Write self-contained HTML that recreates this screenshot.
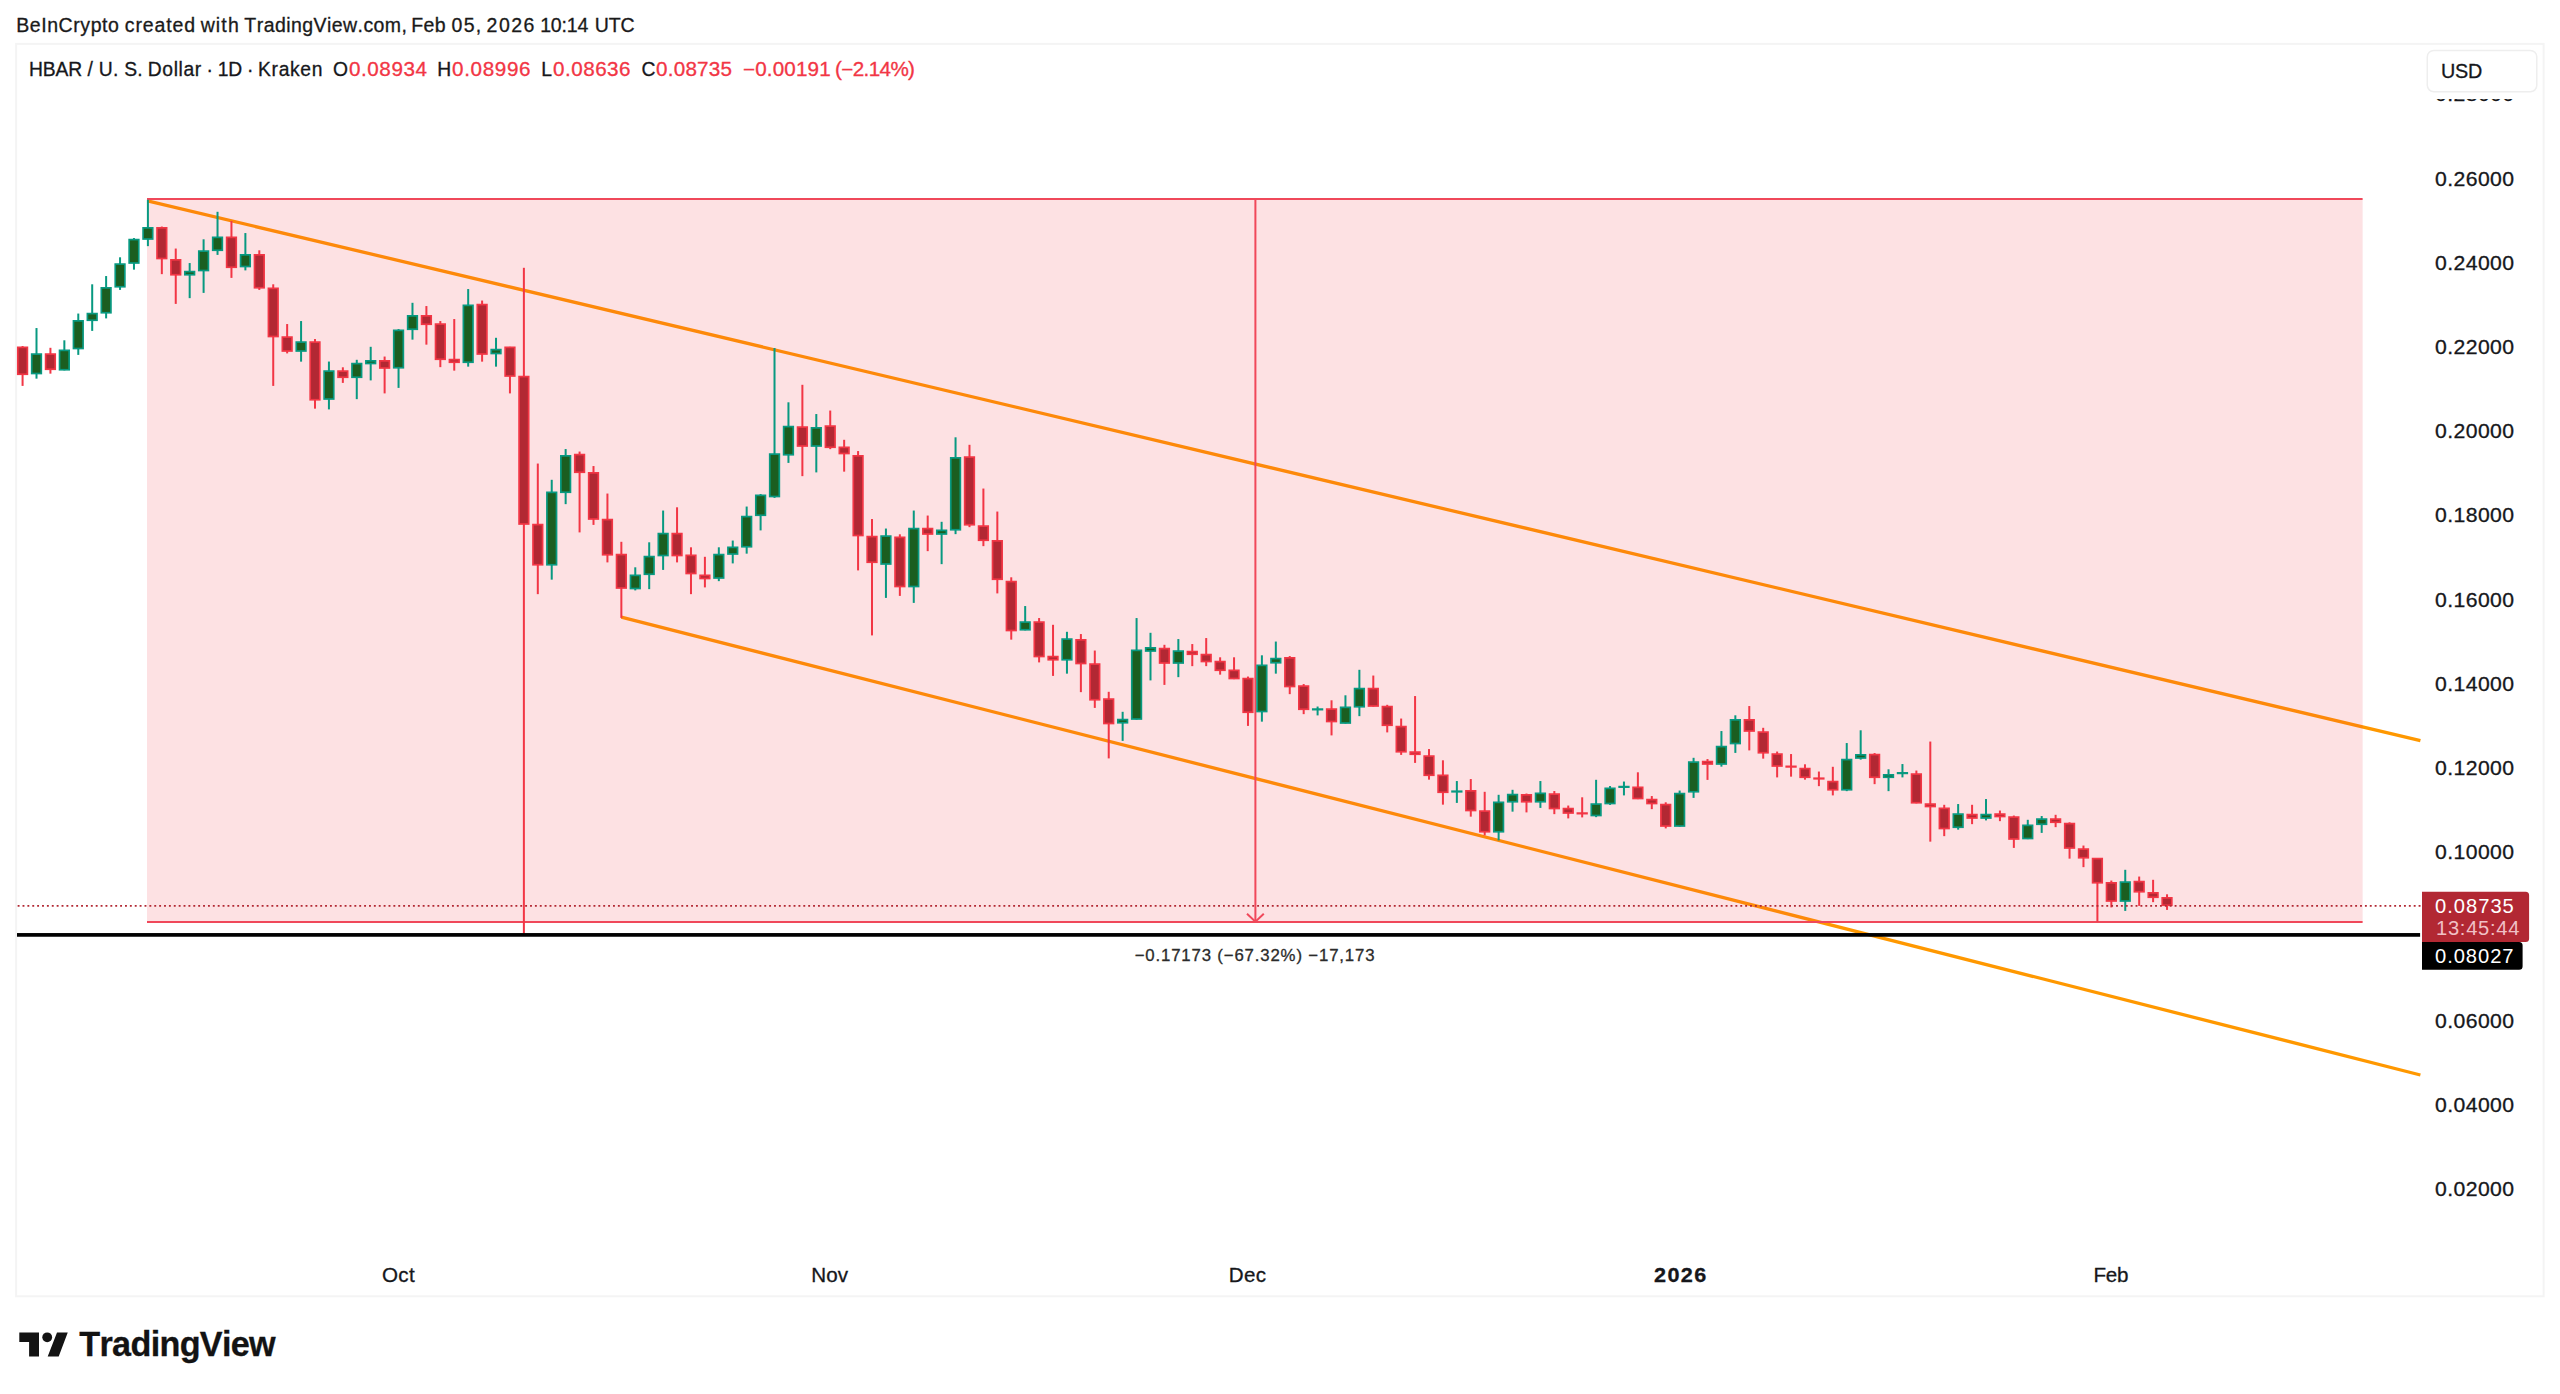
<!DOCTYPE html>
<html><head><meta charset="utf-8"><title>HBAR / U. S. Dollar</title>
<style>
html,body{margin:0;padding:0;background:#fff}
body{width:2560px;height:1394px;position:relative;overflow:hidden;font-family:"Liberation Sans",sans-serif;color:#131722;font-kerning:none}
.abs{position:absolute;white-space:nowrap}
.t{position:absolute;white-space:pre;font-kerning:none;-webkit-text-stroke:0.3px currentColor}
#logo{left:19px;top:1326px}
</style></head><body>
<svg class="abs" style="left:0;top:0" width="2560" height="1394"><rect x="16.1" y="43.9" width="2527.5" height="1252.4" fill="none" stroke="#f4f4f4" stroke-width="2"/></svg>
<svg class="abs" style="left:0;top:0" width="2560" height="1394" viewBox="0 0 2560 1394">
<line x1="147.5" y1="200.9" x2="2420.4" y2="740.7" stroke="#ff9800" stroke-width="3.3"/>
<line x1="621.3" y1="617.2" x2="2420.4" y2="1075.0" stroke="#ff9800" stroke-width="3.3"/>
<rect x="147" y="199" width="2215.6" height="723" fill="#f23645" fill-opacity="0.15"/>
<rect x="147" y="198" width="2215.6" height="2" fill="#f0485a"/>
<rect x="147" y="921" width="2215.6" height="2" fill="#f0485a"/>
<rect x="1254.4" y="199" width="2" height="723" fill="#f0485a"/>
<path d="M1247.0 913.8 L1255.4 921.7 L1263.8000000000002 913.8" fill="none" stroke="#f0485a" stroke-width="2"/>
<rect x="21.58" y="346.05" width="2" height="39.85" fill="#f23645"/>
<rect x="17.78" y="347.35" width="9.600000000000001" height="26.90" fill="#b22833" stroke="#f23645" stroke-width="1.7"/>
<rect x="35.50" y="328.05" width="2" height="50.60" fill="#089981"/>
<rect x="31.70" y="354.10" width="9.600000000000001" height="19.40" fill="#1b5e20" stroke="#089981" stroke-width="1.7"/>
<rect x="49.42" y="347.80" width="2" height="25.85" fill="#f23645"/>
<rect x="45.62" y="354.10" width="9.600000000000001" height="15.15" fill="#b22833" stroke="#f23645" stroke-width="1.7"/>
<rect x="63.35" y="340.30" width="2" height="30.10" fill="#089981"/>
<rect x="59.55" y="350.35" width="9.600000000000001" height="19.40" fill="#1b5e20" stroke="#089981" stroke-width="1.7"/>
<rect x="77.28" y="313.55" width="2" height="41.35" fill="#089981"/>
<rect x="73.47" y="320.85" width="9.600000000000001" height="27.65" fill="#1b5e20" stroke="#089981" stroke-width="1.7"/>
<rect x="91.20" y="284.30" width="2" height="46.60" fill="#089981"/>
<rect x="87.40" y="313.60" width="9.600000000000001" height="6.65" fill="#1b5e20" stroke="#089981" stroke-width="1.7"/>
<rect x="105.12" y="276.05" width="2" height="42.35" fill="#089981"/>
<rect x="101.32" y="287.85" width="9.600000000000001" height="24.90" fill="#1b5e20" stroke="#089981" stroke-width="1.7"/>
<rect x="119.05" y="257.30" width="2" height="32.60" fill="#089981"/>
<rect x="115.25" y="264.10" width="9.600000000000001" height="22.65" fill="#1b5e20" stroke="#089981" stroke-width="1.7"/>
<rect x="132.97" y="238.05" width="2" height="31.60" fill="#089981"/>
<rect x="129.17" y="239.60" width="9.600000000000001" height="23.40" fill="#1b5e20" stroke="#089981" stroke-width="1.7"/>
<rect x="146.90" y="199.80" width="2" height="46.35" fill="#089981"/>
<rect x="143.10" y="227.85" width="9.600000000000001" height="11.15" fill="#1b5e20" stroke="#089981" stroke-width="1.7"/>
<rect x="160.83" y="226.55" width="2" height="47.60" fill="#f23645"/>
<rect x="157.03" y="227.85" width="9.600000000000001" height="30.65" fill="#b22833" stroke="#f23645" stroke-width="1.7"/>
<rect x="174.75" y="248.55" width="2" height="55.35" fill="#f23645"/>
<rect x="170.95" y="259.85" width="9.600000000000001" height="14.90" fill="#b22833" stroke="#f23645" stroke-width="1.7"/>
<rect x="188.68" y="263.05" width="2" height="35.10" fill="#089981"/>
<rect x="184.88" y="271.60" width="9.600000000000001" height="3.15" fill="#1b5e20" stroke="#089981" stroke-width="1.7"/>
<rect x="202.60" y="239.30" width="2" height="53.60" fill="#089981"/>
<rect x="198.80" y="251.10" width="9.600000000000001" height="19.40" fill="#1b5e20" stroke="#089981" stroke-width="1.7"/>
<rect x="216.53" y="211.80" width="2" height="43.10" fill="#089981"/>
<rect x="212.72" y="237.35" width="9.600000000000001" height="12.90" fill="#1b5e20" stroke="#089981" stroke-width="1.7"/>
<rect x="230.45" y="221.05" width="2" height="56.85" fill="#f23645"/>
<rect x="226.65" y="237.35" width="9.600000000000001" height="29.90" fill="#b22833" stroke="#f23645" stroke-width="1.7"/>
<rect x="244.38" y="233.05" width="2" height="37.35" fill="#089981"/>
<rect x="240.57" y="254.85" width="9.600000000000001" height="11.65" fill="#1b5e20" stroke="#089981" stroke-width="1.7"/>
<rect x="258.30" y="250.30" width="2" height="39.60" fill="#f23645"/>
<rect x="254.50" y="254.85" width="9.600000000000001" height="32.90" fill="#b22833" stroke="#f23645" stroke-width="1.7"/>
<rect x="272.23" y="284.30" width="2" height="101.60" fill="#f23645"/>
<rect x="268.43" y="288.35" width="9.600000000000001" height="48.15" fill="#b22833" stroke="#f23645" stroke-width="1.7"/>
<rect x="286.15" y="324.05" width="2" height="29.35" fill="#f23645"/>
<rect x="282.35" y="337.10" width="9.600000000000001" height="13.90" fill="#b22833" stroke="#f23645" stroke-width="1.7"/>
<rect x="300.08" y="321.05" width="2" height="40.60" fill="#089981"/>
<rect x="296.28" y="342.10" width="9.600000000000001" height="8.90" fill="#1b5e20" stroke="#089981" stroke-width="1.7"/>
<rect x="314.00" y="339.05" width="2" height="69.60" fill="#f23645"/>
<rect x="310.20" y="342.10" width="9.600000000000001" height="57.65" fill="#b22833" stroke="#f23645" stroke-width="1.7"/>
<rect x="327.93" y="361.55" width="2" height="47.85" fill="#089981"/>
<rect x="324.13" y="371.10" width="9.600000000000001" height="27.90" fill="#1b5e20" stroke="#089981" stroke-width="1.7"/>
<rect x="341.85" y="367.30" width="2" height="15.60" fill="#f23645"/>
<rect x="338.05" y="371.10" width="9.600000000000001" height="6.15" fill="#b22833" stroke="#f23645" stroke-width="1.7"/>
<rect x="355.77" y="359.80" width="2" height="39.35" fill="#089981"/>
<rect x="351.98" y="363.60" width="9.600000000000001" height="13.65" fill="#1b5e20" stroke="#089981" stroke-width="1.7"/>
<rect x="369.70" y="346.80" width="2" height="33.60" fill="#089981"/>
<rect x="365.90" y="360.85" width="9.600000000000001" height="2.65" fill="#1b5e20" stroke="#089981" stroke-width="1.7"/>
<rect x="383.62" y="356.55" width="2" height="36.85" fill="#f23645"/>
<rect x="379.83" y="360.85" width="9.600000000000001" height="7.15" fill="#b22833" stroke="#f23645" stroke-width="1.7"/>
<rect x="397.55" y="329.05" width="2" height="58.85" fill="#089981"/>
<rect x="393.75" y="330.35" width="9.600000000000001" height="37.40" fill="#1b5e20" stroke="#089981" stroke-width="1.7"/>
<rect x="411.48" y="302.80" width="2" height="36.85" fill="#089981"/>
<rect x="407.68" y="315.85" width="9.600000000000001" height="13.40" fill="#1b5e20" stroke="#089981" stroke-width="1.7"/>
<rect x="425.40" y="306.05" width="2" height="38.60" fill="#f23645"/>
<rect x="421.60" y="315.85" width="9.600000000000001" height="8.40" fill="#b22833" stroke="#f23645" stroke-width="1.7"/>
<rect x="439.33" y="321.05" width="2" height="46.10" fill="#f23645"/>
<rect x="435.53" y="324.10" width="9.600000000000001" height="35.15" fill="#b22833" stroke="#f23645" stroke-width="1.7"/>
<rect x="453.25" y="319.05" width="2" height="51.60" fill="#f23645"/>
<rect x="449.45" y="359.60" width="9.600000000000001" height="2.65" fill="#b22833" stroke="#f23645" stroke-width="1.7"/>
<rect x="467.18" y="289.05" width="2" height="77.60" fill="#089981"/>
<rect x="463.38" y="305.35" width="9.600000000000001" height="56.90" fill="#1b5e20" stroke="#089981" stroke-width="1.7"/>
<rect x="481.10" y="300.55" width="2" height="61.10" fill="#f23645"/>
<rect x="477.30" y="304.60" width="9.600000000000001" height="49.40" fill="#b22833" stroke="#f23645" stroke-width="1.7"/>
<rect x="495.02" y="337.80" width="2" height="28.85" fill="#089981"/>
<rect x="491.23" y="349.60" width="9.600000000000001" height="3.90" fill="#1b5e20" stroke="#089981" stroke-width="1.7"/>
<rect x="508.95" y="346.80" width="2" height="46.60" fill="#f23645"/>
<rect x="505.15" y="347.35" width="9.600000000000001" height="28.65" fill="#b22833" stroke="#f23645" stroke-width="1.7"/>
<rect x="522.88" y="267.80" width="2" height="665.95" fill="#f23645"/>
<rect x="519.08" y="376.60" width="9.600000000000001" height="147.40" fill="#b22833" stroke="#f23645" stroke-width="1.7"/>
<rect x="536.80" y="463.55" width="2" height="130.60" fill="#f23645"/>
<rect x="533.00" y="524.60" width="9.600000000000001" height="40.15" fill="#b22833" stroke="#f23645" stroke-width="1.7"/>
<rect x="550.73" y="479.80" width="2" height="99.85" fill="#089981"/>
<rect x="546.93" y="492.35" width="9.600000000000001" height="72.40" fill="#1b5e20" stroke="#089981" stroke-width="1.7"/>
<rect x="564.65" y="449.05" width="2" height="55.10" fill="#089981"/>
<rect x="560.85" y="455.85" width="9.600000000000001" height="36.40" fill="#1b5e20" stroke="#089981" stroke-width="1.7"/>
<rect x="578.58" y="451.55" width="2" height="80.85" fill="#f23645"/>
<rect x="574.78" y="454.60" width="9.600000000000001" height="17.65" fill="#b22833" stroke="#f23645" stroke-width="1.7"/>
<rect x="592.50" y="466.05" width="2" height="58.85" fill="#f23645"/>
<rect x="588.70" y="472.85" width="9.600000000000001" height="46.15" fill="#b22833" stroke="#f23645" stroke-width="1.7"/>
<rect x="606.43" y="493.55" width="2" height="68.85" fill="#f23645"/>
<rect x="602.63" y="519.60" width="9.600000000000001" height="35.15" fill="#b22833" stroke="#f23645" stroke-width="1.7"/>
<rect x="620.35" y="541.80" width="2" height="76.10" fill="#f23645"/>
<rect x="616.55" y="554.60" width="9.600000000000001" height="33.40" fill="#b22833" stroke="#f23645" stroke-width="1.7"/>
<rect x="634.27" y="567.30" width="2" height="23.10" fill="#089981"/>
<rect x="630.48" y="575.35" width="9.600000000000001" height="13.15" fill="#1b5e20" stroke="#089981" stroke-width="1.7"/>
<rect x="648.20" y="542.30" width="2" height="46.85" fill="#089981"/>
<rect x="644.40" y="556.60" width="9.600000000000001" height="17.65" fill="#1b5e20" stroke="#089981" stroke-width="1.7"/>
<rect x="662.12" y="510.55" width="2" height="59.35" fill="#089981"/>
<rect x="658.33" y="533.60" width="9.600000000000001" height="21.90" fill="#1b5e20" stroke="#089981" stroke-width="1.7"/>
<rect x="676.05" y="507.30" width="2" height="55.10" fill="#f23645"/>
<rect x="672.25" y="533.60" width="9.600000000000001" height="21.90" fill="#b22833" stroke="#f23645" stroke-width="1.7"/>
<rect x="689.98" y="547.30" width="2" height="46.85" fill="#f23645"/>
<rect x="686.18" y="555.35" width="9.600000000000001" height="18.15" fill="#b22833" stroke="#f23645" stroke-width="1.7"/>
<rect x="703.90" y="556.80" width="2" height="30.60" fill="#f23645"/>
<rect x="700.10" y="575.35" width="9.600000000000001" height="3.15" fill="#b22833" stroke="#f23645" stroke-width="1.7"/>
<rect x="717.83" y="547.30" width="2" height="33.85" fill="#089981"/>
<rect x="714.03" y="554.60" width="9.600000000000001" height="23.40" fill="#1b5e20" stroke="#089981" stroke-width="1.7"/>
<rect x="731.75" y="540.55" width="2" height="22.85" fill="#089981"/>
<rect x="727.95" y="547.35" width="9.600000000000001" height="6.65" fill="#1b5e20" stroke="#089981" stroke-width="1.7"/>
<rect x="745.67" y="506.55" width="2" height="47.10" fill="#089981"/>
<rect x="741.88" y="516.60" width="9.600000000000001" height="30.15" fill="#1b5e20" stroke="#089981" stroke-width="1.7"/>
<rect x="759.60" y="494.05" width="2" height="36.35" fill="#089981"/>
<rect x="755.80" y="495.35" width="9.600000000000001" height="19.90" fill="#1b5e20" stroke="#089981" stroke-width="1.7"/>
<rect x="773.52" y="348.05" width="2" height="149.85" fill="#089981"/>
<rect x="769.73" y="454.10" width="9.600000000000001" height="42.40" fill="#1b5e20" stroke="#089981" stroke-width="1.7"/>
<rect x="787.45" y="402.30" width="2" height="60.60" fill="#089981"/>
<rect x="783.65" y="426.60" width="9.600000000000001" height="28.15" fill="#1b5e20" stroke="#089981" stroke-width="1.7"/>
<rect x="801.38" y="384.80" width="2" height="91.35" fill="#f23645"/>
<rect x="797.58" y="427.10" width="9.600000000000001" height="18.90" fill="#b22833" stroke="#f23645" stroke-width="1.7"/>
<rect x="815.30" y="414.05" width="2" height="58.35" fill="#089981"/>
<rect x="811.50" y="427.85" width="9.600000000000001" height="18.15" fill="#1b5e20" stroke="#089981" stroke-width="1.7"/>
<rect x="829.23" y="410.55" width="2" height="38.60" fill="#f23645"/>
<rect x="825.43" y="426.10" width="9.600000000000001" height="21.15" fill="#b22833" stroke="#f23645" stroke-width="1.7"/>
<rect x="843.15" y="439.80" width="2" height="31.85" fill="#f23645"/>
<rect x="839.35" y="447.35" width="9.600000000000001" height="6.15" fill="#b22833" stroke="#f23645" stroke-width="1.7"/>
<rect x="857.08" y="451.05" width="2" height="119.35" fill="#f23645"/>
<rect x="853.28" y="455.85" width="9.600000000000001" height="79.65" fill="#b22833" stroke="#f23645" stroke-width="1.7"/>
<rect x="871.00" y="519.05" width="2" height="116.35" fill="#f23645"/>
<rect x="867.20" y="536.60" width="9.600000000000001" height="25.65" fill="#b22833" stroke="#f23645" stroke-width="1.7"/>
<rect x="884.93" y="528.55" width="2" height="69.35" fill="#089981"/>
<rect x="881.13" y="536.10" width="9.600000000000001" height="27.90" fill="#1b5e20" stroke="#089981" stroke-width="1.7"/>
<rect x="898.85" y="534.30" width="2" height="61.60" fill="#f23645"/>
<rect x="895.05" y="537.35" width="9.600000000000001" height="49.15" fill="#b22833" stroke="#f23645" stroke-width="1.7"/>
<rect x="912.77" y="510.55" width="2" height="92.35" fill="#089981"/>
<rect x="908.98" y="528.60" width="9.600000000000001" height="57.90" fill="#1b5e20" stroke="#089981" stroke-width="1.7"/>
<rect x="926.70" y="515.55" width="2" height="35.60" fill="#f23645"/>
<rect x="922.90" y="528.60" width="9.600000000000001" height="5.40" fill="#b22833" stroke="#f23645" stroke-width="1.7"/>
<rect x="940.62" y="521.80" width="2" height="42.35" fill="#089981"/>
<rect x="936.83" y="530.35" width="9.600000000000001" height="3.65" fill="#1b5e20" stroke="#089981" stroke-width="1.7"/>
<rect x="954.55" y="437.30" width="2" height="96.85" fill="#089981"/>
<rect x="950.75" y="457.85" width="9.600000000000001" height="71.90" fill="#1b5e20" stroke="#089981" stroke-width="1.7"/>
<rect x="968.48" y="444.80" width="2" height="82.35" fill="#f23645"/>
<rect x="964.68" y="457.10" width="9.600000000000001" height="67.65" fill="#b22833" stroke="#f23645" stroke-width="1.7"/>
<rect x="982.40" y="488.55" width="2" height="57.60" fill="#f23645"/>
<rect x="978.60" y="526.10" width="9.600000000000001" height="14.15" fill="#b22833" stroke="#f23645" stroke-width="1.7"/>
<rect x="996.33" y="511.55" width="2" height="81.85" fill="#f23645"/>
<rect x="992.53" y="540.85" width="9.600000000000001" height="38.40" fill="#b22833" stroke="#f23645" stroke-width="1.7"/>
<rect x="1010.25" y="577.30" width="2" height="62.35" fill="#f23645"/>
<rect x="1006.45" y="581.60" width="9.600000000000001" height="48.90" fill="#b22833" stroke="#f23645" stroke-width="1.7"/>
<rect x="1024.18" y="606.05" width="2" height="24.35" fill="#089981"/>
<rect x="1020.38" y="622.10" width="9.600000000000001" height="7.65" fill="#1b5e20" stroke="#089981" stroke-width="1.7"/>
<rect x="1038.10" y="618.05" width="2" height="44.35" fill="#f23645"/>
<rect x="1034.30" y="622.10" width="9.600000000000001" height="34.40" fill="#b22833" stroke="#f23645" stroke-width="1.7"/>
<rect x="1052.03" y="624.80" width="2" height="51.10" fill="#f23645"/>
<rect x="1048.22" y="656.60" width="9.600000000000001" height="3.15" fill="#b22833" stroke="#f23645" stroke-width="1.7"/>
<rect x="1065.95" y="631.80" width="2" height="41.85" fill="#089981"/>
<rect x="1062.15" y="639.10" width="9.600000000000001" height="20.65" fill="#1b5e20" stroke="#089981" stroke-width="1.7"/>
<rect x="1079.88" y="634.05" width="2" height="58.10" fill="#f23645"/>
<rect x="1076.07" y="639.85" width="9.600000000000001" height="23.65" fill="#b22833" stroke="#f23645" stroke-width="1.7"/>
<rect x="1093.80" y="650.55" width="2" height="57.35" fill="#f23645"/>
<rect x="1090.00" y="664.10" width="9.600000000000001" height="35.65" fill="#b22833" stroke="#f23645" stroke-width="1.7"/>
<rect x="1107.73" y="691.80" width="2" height="66.60" fill="#f23645"/>
<rect x="1103.92" y="699.10" width="9.600000000000001" height="24.40" fill="#b22833" stroke="#f23645" stroke-width="1.7"/>
<rect x="1121.65" y="711.80" width="2" height="29.10" fill="#089981"/>
<rect x="1117.85" y="719.60" width="9.600000000000001" height="3.15" fill="#1b5e20" stroke="#089981" stroke-width="1.7"/>
<rect x="1135.58" y="618.05" width="2" height="101.60" fill="#089981"/>
<rect x="1131.77" y="650.35" width="9.600000000000001" height="68.65" fill="#1b5e20" stroke="#089981" stroke-width="1.7"/>
<rect x="1149.50" y="632.80" width="2" height="47.60" fill="#089981"/>
<rect x="1145.70" y="647.85" width="9.600000000000001" height="3.15" fill="#1b5e20" stroke="#089981" stroke-width="1.7"/>
<rect x="1163.43" y="644.80" width="2" height="40.10" fill="#f23645"/>
<rect x="1159.62" y="648.60" width="9.600000000000001" height="14.40" fill="#b22833" stroke="#f23645" stroke-width="1.7"/>
<rect x="1177.35" y="639.05" width="2" height="38.10" fill="#089981"/>
<rect x="1173.55" y="651.10" width="9.600000000000001" height="11.90" fill="#1b5e20" stroke="#089981" stroke-width="1.7"/>
<rect x="1191.28" y="644.05" width="2" height="22.10" fill="#f23645"/>
<rect x="1187.47" y="651.60" width="9.600000000000001" height="2.65" fill="#b22833" stroke="#f23645" stroke-width="1.7"/>
<rect x="1205.20" y="638.05" width="2" height="28.10" fill="#f23645"/>
<rect x="1201.40" y="654.60" width="9.600000000000001" height="6.90" fill="#b22833" stroke="#f23645" stroke-width="1.7"/>
<rect x="1219.13" y="657.30" width="2" height="17.35" fill="#f23645"/>
<rect x="1215.33" y="661.60" width="9.600000000000001" height="8.65" fill="#b22833" stroke="#f23645" stroke-width="1.7"/>
<rect x="1233.05" y="657.30" width="2" height="21.85" fill="#f23645"/>
<rect x="1229.25" y="670.35" width="9.600000000000001" height="8.15" fill="#b22833" stroke="#f23645" stroke-width="1.7"/>
<rect x="1246.98" y="676.55" width="2" height="49.35" fill="#f23645"/>
<rect x="1243.17" y="678.60" width="9.600000000000001" height="33.65" fill="#b22833" stroke="#f23645" stroke-width="1.7"/>
<rect x="1260.90" y="655.30" width="2" height="66.35" fill="#089981"/>
<rect x="1257.10" y="665.35" width="9.600000000000001" height="46.15" fill="#1b5e20" stroke="#089981" stroke-width="1.7"/>
<rect x="1274.83" y="641.55" width="2" height="32.10" fill="#089981"/>
<rect x="1271.02" y="658.60" width="9.600000000000001" height="4.15" fill="#1b5e20" stroke="#089981" stroke-width="1.7"/>
<rect x="1288.75" y="656.05" width="2" height="38.10" fill="#f23645"/>
<rect x="1284.95" y="657.85" width="9.600000000000001" height="28.65" fill="#b22833" stroke="#f23645" stroke-width="1.7"/>
<rect x="1302.68" y="684.05" width="2" height="30.10" fill="#f23645"/>
<rect x="1298.88" y="686.10" width="9.600000000000001" height="23.15" fill="#b22833" stroke="#f23645" stroke-width="1.7"/>
<rect x="1316.60" y="706.55" width="2" height="8.85" fill="#089981"/>
<rect x="1311.95" y="708.27" width="11.3" height="2.20" fill="#089981"/>
<rect x="1330.53" y="700.30" width="2" height="35.10" fill="#f23645"/>
<rect x="1326.72" y="709.10" width="9.600000000000001" height="12.40" fill="#b22833" stroke="#f23645" stroke-width="1.7"/>
<rect x="1344.45" y="695.30" width="2" height="28.35" fill="#089981"/>
<rect x="1340.65" y="707.35" width="9.600000000000001" height="15.65" fill="#1b5e20" stroke="#089981" stroke-width="1.7"/>
<rect x="1358.38" y="669.80" width="2" height="46.35" fill="#089981"/>
<rect x="1354.58" y="688.60" width="9.600000000000001" height="18.15" fill="#1b5e20" stroke="#089981" stroke-width="1.7"/>
<rect x="1372.30" y="675.55" width="2" height="31.10" fill="#f23645"/>
<rect x="1368.50" y="688.60" width="9.600000000000001" height="17.40" fill="#b22833" stroke="#f23645" stroke-width="1.7"/>
<rect x="1386.23" y="704.80" width="2" height="27.60" fill="#f23645"/>
<rect x="1382.42" y="706.60" width="9.600000000000001" height="18.65" fill="#b22833" stroke="#f23645" stroke-width="1.7"/>
<rect x="1400.15" y="718.55" width="2" height="36.35" fill="#f23645"/>
<rect x="1396.35" y="726.60" width="9.600000000000001" height="25.15" fill="#b22833" stroke="#f23645" stroke-width="1.7"/>
<rect x="1414.08" y="696.05" width="2" height="66.85" fill="#f23645"/>
<rect x="1410.27" y="752.10" width="9.600000000000001" height="2.15" fill="#b22833" stroke="#f23645" stroke-width="1.7"/>
<rect x="1428.00" y="749.05" width="2" height="30.60" fill="#f23645"/>
<rect x="1424.20" y="756.10" width="9.600000000000001" height="19.15" fill="#b22833" stroke="#f23645" stroke-width="1.7"/>
<rect x="1441.93" y="760.30" width="2" height="44.35" fill="#f23645"/>
<rect x="1438.12" y="775.35" width="9.600000000000001" height="16.90" fill="#b22833" stroke="#f23645" stroke-width="1.7"/>
<rect x="1455.85" y="781.05" width="2" height="21.85" fill="#089981"/>
<rect x="1451.20" y="790.40" width="11.3" height="2.20" fill="#089981"/>
<rect x="1469.78" y="779.05" width="2" height="37.60" fill="#f23645"/>
<rect x="1465.97" y="790.85" width="9.600000000000001" height="19.65" fill="#b22833" stroke="#f23645" stroke-width="1.7"/>
<rect x="1483.70" y="791.80" width="2" height="43.60" fill="#f23645"/>
<rect x="1479.90" y="811.10" width="9.600000000000001" height="20.65" fill="#b22833" stroke="#f23645" stroke-width="1.7"/>
<rect x="1497.63" y="794.80" width="2" height="45.60" fill="#089981"/>
<rect x="1493.83" y="802.35" width="9.600000000000001" height="29.40" fill="#1b5e20" stroke="#089981" stroke-width="1.7"/>
<rect x="1511.55" y="789.80" width="2" height="21.85" fill="#089981"/>
<rect x="1507.75" y="794.60" width="9.600000000000001" height="7.15" fill="#1b5e20" stroke="#089981" stroke-width="1.7"/>
<rect x="1525.48" y="793.55" width="2" height="18.85" fill="#f23645"/>
<rect x="1521.67" y="794.85" width="9.600000000000001" height="6.90" fill="#b22833" stroke="#f23645" stroke-width="1.7"/>
<rect x="1539.40" y="781.05" width="2" height="26.85" fill="#089981"/>
<rect x="1535.60" y="793.35" width="9.600000000000001" height="8.40" fill="#1b5e20" stroke="#089981" stroke-width="1.7"/>
<rect x="1553.33" y="791.05" width="2" height="23.10" fill="#f23645"/>
<rect x="1549.53" y="794.10" width="9.600000000000001" height="14.40" fill="#b22833" stroke="#f23645" stroke-width="1.7"/>
<rect x="1567.25" y="805.55" width="2" height="12.85" fill="#f23645"/>
<rect x="1563.45" y="808.60" width="9.600000000000001" height="4.40" fill="#b22833" stroke="#f23645" stroke-width="1.7"/>
<rect x="1581.18" y="797.30" width="2" height="20.10" fill="#f23645"/>
<rect x="1576.53" y="812.27" width="11.3" height="2.20" fill="#f23645"/>
<rect x="1595.10" y="779.80" width="2" height="37.35" fill="#089981"/>
<rect x="1591.30" y="804.10" width="9.600000000000001" height="11.40" fill="#1b5e20" stroke="#089981" stroke-width="1.7"/>
<rect x="1609.03" y="786.05" width="2" height="18.85" fill="#089981"/>
<rect x="1605.22" y="788.35" width="9.600000000000001" height="15.15" fill="#1b5e20" stroke="#089981" stroke-width="1.7"/>
<rect x="1622.95" y="781.55" width="2" height="13.85" fill="#089981"/>
<rect x="1618.30" y="785.77" width="11.3" height="2.20" fill="#089981"/>
<rect x="1636.88" y="772.30" width="2" height="26.85" fill="#f23645"/>
<rect x="1633.08" y="787.35" width="9.600000000000001" height="11.15" fill="#b22833" stroke="#f23645" stroke-width="1.7"/>
<rect x="1650.80" y="796.05" width="2" height="13.10" fill="#f23645"/>
<rect x="1647.00" y="799.60" width="9.600000000000001" height="3.90" fill="#b22833" stroke="#f23645" stroke-width="1.7"/>
<rect x="1664.73" y="802.30" width="2" height="26.10" fill="#f23645"/>
<rect x="1660.92" y="804.60" width="9.600000000000001" height="21.40" fill="#b22833" stroke="#f23645" stroke-width="1.7"/>
<rect x="1678.65" y="790.55" width="2" height="36.10" fill="#089981"/>
<rect x="1674.85" y="793.60" width="9.600000000000001" height="32.40" fill="#1b5e20" stroke="#089981" stroke-width="1.7"/>
<rect x="1692.58" y="757.80" width="2" height="40.10" fill="#089981"/>
<rect x="1688.78" y="762.10" width="9.600000000000001" height="29.65" fill="#1b5e20" stroke="#089981" stroke-width="1.7"/>
<rect x="1706.50" y="759.05" width="2" height="20.85" fill="#f23645"/>
<rect x="1702.70" y="761.60" width="9.600000000000001" height="2.40" fill="#b22833" stroke="#f23645" stroke-width="1.7"/>
<rect x="1720.43" y="731.05" width="2" height="35.60" fill="#089981"/>
<rect x="1716.62" y="746.60" width="9.600000000000001" height="17.40" fill="#1b5e20" stroke="#089981" stroke-width="1.7"/>
<rect x="1734.35" y="715.30" width="2" height="37.60" fill="#089981"/>
<rect x="1730.55" y="719.85" width="9.600000000000001" height="23.65" fill="#1b5e20" stroke="#089981" stroke-width="1.7"/>
<rect x="1748.28" y="706.05" width="2" height="44.35" fill="#f23645"/>
<rect x="1744.47" y="719.85" width="9.600000000000001" height="11.15" fill="#b22833" stroke="#f23645" stroke-width="1.7"/>
<rect x="1762.20" y="727.80" width="2" height="30.85" fill="#f23645"/>
<rect x="1758.40" y="732.10" width="9.600000000000001" height="20.65" fill="#b22833" stroke="#f23645" stroke-width="1.7"/>
<rect x="1776.13" y="751.55" width="2" height="25.85" fill="#f23645"/>
<rect x="1772.33" y="754.10" width="9.600000000000001" height="11.90" fill="#b22833" stroke="#f23645" stroke-width="1.7"/>
<rect x="1790.05" y="754.05" width="2" height="22.60" fill="#f23645"/>
<rect x="1785.40" y="765.52" width="11.3" height="2.20" fill="#f23645"/>
<rect x="1803.98" y="764.30" width="2" height="15.35" fill="#f23645"/>
<rect x="1800.17" y="768.60" width="9.600000000000001" height="8.65" fill="#b22833" stroke="#f23645" stroke-width="1.7"/>
<rect x="1817.90" y="771.55" width="2" height="14.60" fill="#f23645"/>
<rect x="1813.25" y="777.40" width="11.3" height="2.20" fill="#f23645"/>
<rect x="1831.83" y="766.80" width="2" height="28.60" fill="#f23645"/>
<rect x="1828.03" y="781.60" width="9.600000000000001" height="8.15" fill="#b22833" stroke="#f23645" stroke-width="1.7"/>
<rect x="1845.75" y="743.05" width="2" height="48.10" fill="#089981"/>
<rect x="1841.95" y="759.60" width="9.600000000000001" height="30.15" fill="#1b5e20" stroke="#089981" stroke-width="1.7"/>
<rect x="1859.68" y="730.30" width="2" height="29.35" fill="#089981"/>
<rect x="1855.88" y="754.85" width="9.600000000000001" height="3.15" fill="#1b5e20" stroke="#089981" stroke-width="1.7"/>
<rect x="1873.60" y="753.05" width="2" height="31.10" fill="#f23645"/>
<rect x="1869.80" y="754.60" width="9.600000000000001" height="22.65" fill="#b22833" stroke="#f23645" stroke-width="1.7"/>
<rect x="1887.53" y="769.30" width="2" height="21.85" fill="#089981"/>
<rect x="1883.72" y="774.85" width="9.600000000000001" height="2.40" fill="#1b5e20" stroke="#089981" stroke-width="1.7"/>
<rect x="1901.45" y="764.05" width="2" height="13.35" fill="#089981"/>
<rect x="1896.80" y="772.02" width="11.3" height="2.20" fill="#089981"/>
<rect x="1915.38" y="770.55" width="2" height="32.85" fill="#f23645"/>
<rect x="1911.58" y="774.10" width="9.600000000000001" height="28.65" fill="#b22833" stroke="#f23645" stroke-width="1.7"/>
<rect x="1929.30" y="741.55" width="2" height="100.10" fill="#f23645"/>
<rect x="1925.50" y="804.10" width="9.600000000000001" height="2.40" fill="#b22833" stroke="#f23645" stroke-width="1.7"/>
<rect x="1943.23" y="804.80" width="2" height="31.35" fill="#f23645"/>
<rect x="1939.42" y="808.35" width="9.600000000000001" height="20.15" fill="#b22833" stroke="#f23645" stroke-width="1.7"/>
<rect x="1957.15" y="804.05" width="2" height="25.60" fill="#089981"/>
<rect x="1953.35" y="814.10" width="9.600000000000001" height="13.15" fill="#1b5e20" stroke="#089981" stroke-width="1.7"/>
<rect x="1971.08" y="804.80" width="2" height="19.35" fill="#f23645"/>
<rect x="1967.28" y="814.60" width="9.600000000000001" height="3.40" fill="#b22833" stroke="#f23645" stroke-width="1.7"/>
<rect x="1985.00" y="799.05" width="2" height="21.35" fill="#089981"/>
<rect x="1981.20" y="814.60" width="9.600000000000001" height="3.40" fill="#1b5e20" stroke="#089981" stroke-width="1.7"/>
<rect x="1998.93" y="810.55" width="2" height="10.60" fill="#f23645"/>
<rect x="1995.12" y="814.10" width="9.600000000000001" height="2.40" fill="#b22833" stroke="#f23645" stroke-width="1.7"/>
<rect x="2012.85" y="815.55" width="2" height="32.35" fill="#f23645"/>
<rect x="2009.05" y="817.10" width="9.600000000000001" height="21.90" fill="#b22833" stroke="#f23645" stroke-width="1.7"/>
<rect x="2026.78" y="819.80" width="2" height="19.35" fill="#089981"/>
<rect x="2022.97" y="825.35" width="9.600000000000001" height="13.15" fill="#1b5e20" stroke="#089981" stroke-width="1.7"/>
<rect x="2040.70" y="816.05" width="2" height="16.85" fill="#089981"/>
<rect x="2036.90" y="819.10" width="9.600000000000001" height="5.15" fill="#1b5e20" stroke="#089981" stroke-width="1.7"/>
<rect x="2054.62" y="814.80" width="2" height="12.35" fill="#f23645"/>
<rect x="2050.82" y="819.10" width="9.600000000000001" height="3.15" fill="#b22833" stroke="#f23645" stroke-width="1.7"/>
<rect x="2068.55" y="822.30" width="2" height="36.35" fill="#f23645"/>
<rect x="2064.75" y="823.60" width="9.600000000000001" height="24.40" fill="#b22833" stroke="#f23645" stroke-width="1.7"/>
<rect x="2082.47" y="845.55" width="2" height="21.60" fill="#f23645"/>
<rect x="2078.67" y="849.10" width="9.600000000000001" height="8.65" fill="#b22833" stroke="#f23645" stroke-width="1.7"/>
<rect x="2096.40" y="858.05" width="2" height="63.60" fill="#f23645"/>
<rect x="2092.60" y="858.60" width="9.600000000000001" height="24.15" fill="#b22833" stroke="#f23645" stroke-width="1.7"/>
<rect x="2110.33" y="880.55" width="2" height="26.85" fill="#f23645"/>
<rect x="2106.53" y="882.85" width="9.600000000000001" height="18.15" fill="#b22833" stroke="#f23645" stroke-width="1.7"/>
<rect x="2124.25" y="869.80" width="2" height="41.10" fill="#089981"/>
<rect x="2120.45" y="882.10" width="9.600000000000001" height="18.90" fill="#1b5e20" stroke="#089981" stroke-width="1.7"/>
<rect x="2138.18" y="876.55" width="2" height="29.35" fill="#f23645"/>
<rect x="2134.38" y="881.60" width="9.600000000000001" height="10.15" fill="#b22833" stroke="#f23645" stroke-width="1.7"/>
<rect x="2152.10" y="879.80" width="2" height="22.35" fill="#f23645"/>
<rect x="2148.30" y="892.85" width="9.600000000000001" height="4.40" fill="#b22833" stroke="#f23645" stroke-width="1.7"/>
<rect x="2166.03" y="894.30" width="2" height="15.60" fill="#f23645"/>
<rect x="2162.22" y="897.85" width="9.600000000000001" height="7.40" fill="#b22833" stroke="#f23645" stroke-width="1.7"/>
<line x1="17.64" y1="905.85" x2="2421" y2="905.85" stroke="#b22833" stroke-width="1.9" stroke-dasharray="1.9 2.98"/>
<rect x="17" y="933.05" width="2403.1" height="3.7" fill="#000"/>
<path d="M2422 891.8 H2525.6 A3.5 3.5 0 0 1 2529.1 895.3 V938.5999999999999 A3.5 3.5 0 0 1 2525.6 942.0999999999999 H2422 Z" fill="#b22833"/>
<path d="M2422 942.1 H2519.1 A3.5 3.5 0 0 1 2522.6 945.6 V966.2 A3.5 3.5 0 0 1 2519.1 969.7 H2422 Z" fill="#000"/>
</svg>
<div class="abs" style="left:0;top:98.6px;width:2543px;height:1190px;overflow:hidden"><div style="position:absolute;left:0;top:-98.6px;width:2560px;height:1394px">
<span class="t" style="left:2435.07px;top:82.35px;font-size:20.2px;letter-spacing:0.395px;line-height:24px;color:#16171b;transform:scaleX(1.05);transform-origin:0 0">0.28000</span>
<span class="t" style="left:2435.07px;top:166.55px;font-size:20.2px;letter-spacing:0.395px;line-height:24px;color:#16171b;transform:scaleX(1.05);transform-origin:0 0">0.26000</span>
<span class="t" style="left:2435.07px;top:250.75px;font-size:20.2px;letter-spacing:0.395px;line-height:24px;color:#16171b;transform:scaleX(1.05);transform-origin:0 0">0.24000</span>
<span class="t" style="left:2435.07px;top:334.95px;font-size:20.2px;letter-spacing:0.395px;line-height:24px;color:#16171b;transform:scaleX(1.05);transform-origin:0 0">0.22000</span>
<span class="t" style="left:2435.07px;top:419.15px;font-size:20.2px;letter-spacing:0.395px;line-height:24px;color:#16171b;transform:scaleX(1.05);transform-origin:0 0">0.20000</span>
<span class="t" style="left:2435.07px;top:503.35px;font-size:20.2px;letter-spacing:0.395px;line-height:24px;color:#16171b;transform:scaleX(1.05);transform-origin:0 0">0.18000</span>
<span class="t" style="left:2435.07px;top:587.55px;font-size:20.2px;letter-spacing:0.395px;line-height:24px;color:#16171b;transform:scaleX(1.05);transform-origin:0 0">0.16000</span>
<span class="t" style="left:2435.07px;top:671.75px;font-size:20.2px;letter-spacing:0.395px;line-height:24px;color:#16171b;transform:scaleX(1.05);transform-origin:0 0">0.14000</span>
<span class="t" style="left:2435.07px;top:755.95px;font-size:20.2px;letter-spacing:0.395px;line-height:24px;color:#16171b;transform:scaleX(1.05);transform-origin:0 0">0.12000</span>
<span class="t" style="left:2435.07px;top:840.15px;font-size:20.2px;letter-spacing:0.395px;line-height:24px;color:#16171b;transform:scaleX(1.05);transform-origin:0 0">0.10000</span>
<span class="t" style="left:2435.07px;top:1008.55px;font-size:20.2px;letter-spacing:0.395px;line-height:24px;color:#16171b;transform:scaleX(1.05);transform-origin:0 0">0.06000</span>
<span class="t" style="left:2435.07px;top:1092.75px;font-size:20.2px;letter-spacing:0.395px;line-height:24px;color:#16171b;transform:scaleX(1.05);transform-origin:0 0">0.04000</span>
<span class="t" style="left:2435.07px;top:1176.95px;font-size:20.2px;letter-spacing:0.395px;line-height:24px;color:#16171b;transform:scaleX(1.05);transform-origin:0 0">0.02000</span>
</div></div>
<svg class="abs" style="left:2420px;top:44px" width="124" height="54"><rect x="7.3" y="6.4" width="109.5" height="41.4" rx="6.5" fill="#fff" stroke="#eeeeee" stroke-width="1.5"/></svg>
<span class="t" style="left:2440.97px;top:59.14px;font-size:19.8px;letter-spacing:-0.165px;line-height:24px;color:#16171b">USD</span>
<span class="t" style="left:2435.21px;top:893.57px;font-size:19.4px;letter-spacing:0.946px;line-height:24px;color:#fff;-webkit-text-stroke:0;transform:scaleX(1.04);transform-origin:0 0">0.08735</span>
<span class="t" style="left:2435.86px;top:916.27px;font-size:19.4px;letter-spacing:0.686px;line-height:24px;color:#f0c0c5;-webkit-text-stroke:0;transform:scaleX(1.04);transform-origin:0 0">13:45:44</span>
<span class="t" style="left:2435.21px;top:943.97px;font-size:19.4px;letter-spacing:0.909px;line-height:24px;color:#fff;-webkit-text-stroke:0;transform:scaleX(1.04);transform-origin:0 0">0.08027</span>
<span class="t" style="left:16.15px;top:13.44px;font-size:19.5px;letter-spacing:0.580px;line-height:24px;color:#1a1a1a">BeInCrypto</span>
<span class="t" style="left:124.77px;top:13.44px;font-size:19.5px;letter-spacing:0.866px;line-height:24px;color:#1a1a1a">created</span>
<span class="t" style="left:200.63px;top:13.44px;font-size:19.5px;letter-spacing:1.154px;line-height:24px;color:#1a1a1a">with</span>
<span class="t" style="left:244.36px;top:13.44px;font-size:19.5px;letter-spacing:0.436px;line-height:24px;color:#1a1a1a">TradingView.com,</span>
<span class="t" style="left:411.30px;top:13.44px;font-size:19.5px;letter-spacing:0.409px;line-height:24px;color:#1a1a1a">Feb</span>
<span class="t" style="left:451.54px;top:13.44px;font-size:19.5px;letter-spacing:1.253px;line-height:24px;color:#1a1a1a">05,</span>
<span class="t" style="left:486.62px;top:13.44px;font-size:19.5px;letter-spacing:1.453px;line-height:24px;color:#1a1a1a">2026</span>
<span class="t" style="left:540.21px;top:13.44px;font-size:19.5px;letter-spacing:-0.185px;line-height:24px;color:#1a1a1a">10:14</span>
<span class="t" style="left:594.70px;top:13.44px;font-size:19.5px;letter-spacing:-0.064px;line-height:24px;color:#1a1a1a">UTC</span>
<span class="t" style="left:29.02px;top:57.56px;font-size:19.3px;letter-spacing:-0.164px;line-height:24px;color:#16171b">HBAR</span>
<span class="t" style="left:87.50px;top:57.56px;font-size:19.3px;letter-spacing:0.273px;line-height:24px;color:#16171b">/ U. S.</span>
<span class="t" style="left:147.82px;top:57.56px;font-size:19.3px;letter-spacing:0.619px;line-height:24px;color:#16171b">Dollar</span>
<span class="t" style="left:206.46px;top:57.56px;font-size:19.3px;letter-spacing:-0.232px;line-height:24px;color:#16171b">· 1D ·</span>
<span class="t" style="left:258.02px;top:57.56px;font-size:19.3px;letter-spacing:0.667px;line-height:24px;color:#16171b">Kraken</span>
<span class="t" style="left:333.09px;top:57.56px;font-size:19.3px;letter-spacing:0.000px;line-height:24px;color:#16171b">O</span>
<span class="t" style="left:437.17px;top:57.56px;font-size:19.3px;letter-spacing:0.000px;line-height:24px;color:#16171b">H</span>
<span class="t" style="left:541.32px;top:57.56px;font-size:19.3px;letter-spacing:0.000px;line-height:24px;color:#16171b">L</span>
<span class="t" style="left:641.52px;top:57.56px;font-size:19.3px;letter-spacing:0.000px;line-height:24px;color:#16171b">C</span>
<span class="t" style="left:348.59px;top:57.56px;font-size:19.3px;letter-spacing:0.524px;line-height:24px;color:#f23645;transform:scaleX(1.07);transform-origin:0 0">0.08934</span>
<span class="t" style="left:452.29px;top:57.56px;font-size:19.3px;letter-spacing:0.618px;line-height:24px;color:#f23645;transform:scaleX(1.07);transform-origin:0 0">0.08996</span>
<span class="t" style="left:553.29px;top:57.56px;font-size:19.3px;letter-spacing:0.462px;line-height:24px;color:#f23645;transform:scaleX(1.07);transform-origin:0 0">0.08636</span>
<span class="t" style="left:655.79px;top:57.56px;font-size:19.3px;letter-spacing:0.222px;line-height:24px;color:#f23645;transform:scaleX(1.07);transform-origin:0 0">0.08735</span>
<span class="t" style="left:742.73px;top:57.56px;font-size:19.3px;letter-spacing:0.143px;line-height:24px;color:#f23645;transform:scaleX(1.07);transform-origin:0 0">−0.00191</span>
<span class="t" style="left:835.22px;top:57.56px;font-size:19.3px;letter-spacing:-0.575px;line-height:24px;color:#f23645;transform:scaleX(1.07);transform-origin:0 0">(−2.14%)</span>
<span class="t" style="left:382.02px;top:1263.36px;font-size:20.6px;letter-spacing:0.290px;line-height:24px;color:#16171b">Oct</span>
<span class="t" style="left:811.31px;top:1263.36px;font-size:20.6px;letter-spacing:0.063px;line-height:24px;color:#16171b">Nov</span>
<span class="t" style="left:1228.81px;top:1263.36px;font-size:20.6px;letter-spacing:0.300px;line-height:24px;color:#16171b">Dec</span>
<span class="t" style="left:1653.85px;top:1263.43px;font-size:20.4px;letter-spacing:1.297px;line-height:24px;color:#16171b;font-weight:bold;transform:scaleX(1.06);transform-origin:0 0">2026</span>
<span class="t" style="left:2093.51px;top:1263.36px;font-size:20.6px;letter-spacing:-0.321px;line-height:24px;color:#16171b">Feb</span>
<span class="t" style="left:1134.67px;top:943.58px;font-size:16.8px;letter-spacing:0.841px;line-height:24px;color:#2b2b2b">−0.17173 (−67.32%) −17,173</span>
<svg id="logo" class="abs" width="52" height="32" viewBox="0 0 52 32"><path d="M0.3 6.6 H20 V30.4 H10.1 V15.9 H0.3 Z M38 6.6 H48.75 L39.7 30.4 H28.7 Z" fill="#131313"/><circle cx="28.2" cy="11.3" r="4.9" fill="#131313"/></svg>
<span class="t" style="left:79.32px;top:1322.44px;font-size:34.2px;letter-spacing:-0.691px;line-height:44px;color:#131313;font-weight:bold">TradingView</span>
</body></html>
